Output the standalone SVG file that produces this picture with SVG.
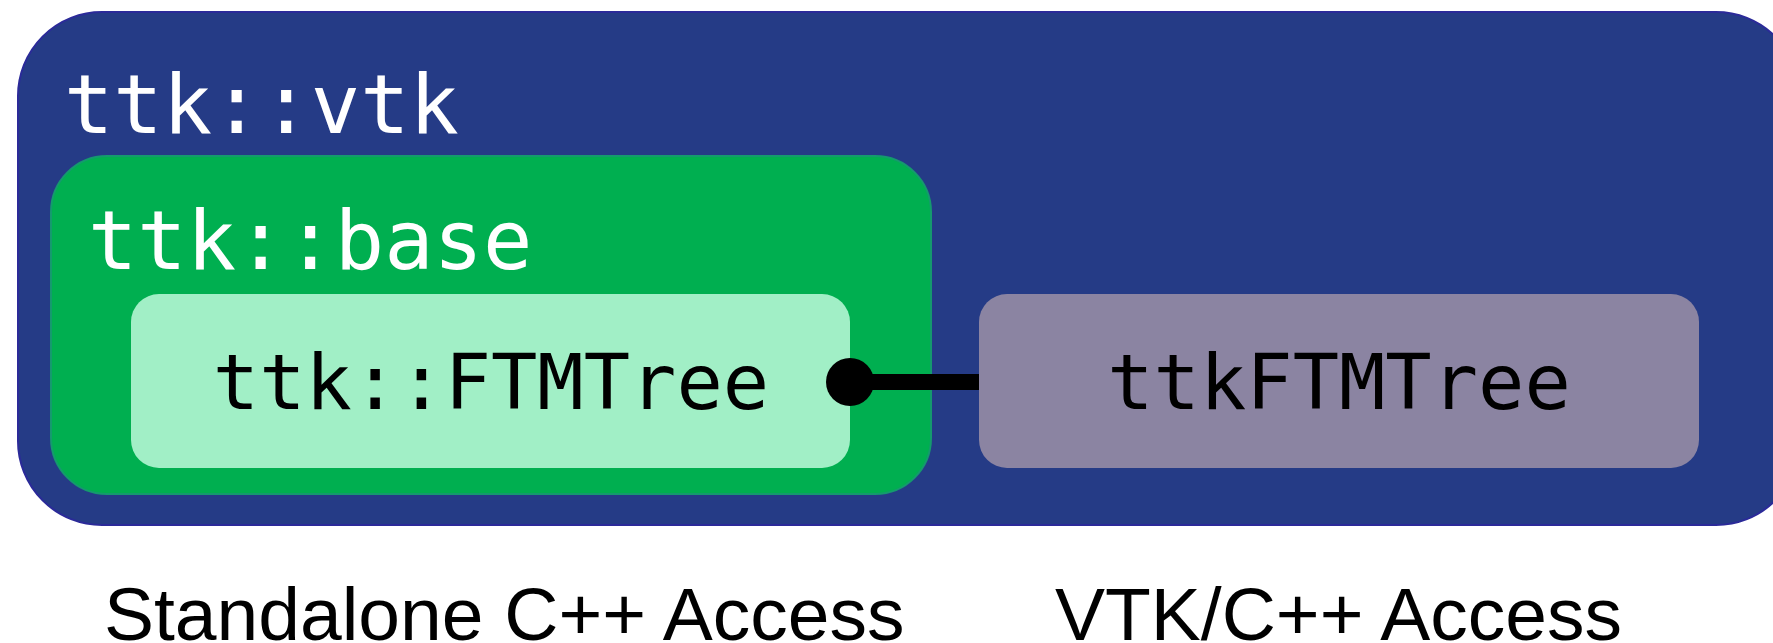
<svg xmlns="http://www.w3.org/2000/svg" width="1773" height="643" viewBox="0 0 1773 643">
<style>
.mono{font-family:"DejaVu Sans Mono",monospace}
.lbl{font-family:"Liberation Sans",Arial,sans-serif;font-size:75px;fill:#000}
</style>
<rect width="1773" height="643" fill="#fff"/>
<g id="vtk">
<rect x="18" y="12" width="1782" height="513" rx="84" fill="#253B86" stroke="#2B2A99" stroke-width="2"/>
<text class="mono" x="64" y="133" font-size="82" fill="#fff">ttk::vtk</text>
</g>
<g id="base">
<rect x="51" y="156" width="880" height="338" rx="56" fill="#00AF50" stroke="#159A6E" stroke-width="2"/>
<text class="mono" x="88" y="269" font-size="82" fill="#fff">ttk::base</text>
</g>
<g id="ftmtree">
<rect x="131" y="294" width="719" height="174" rx="28" fill="#A1EFC6"/>
<text class="mono" x="491" y="409" font-size="77" text-anchor="middle" fill="#000">ttk::FTMTree</text>
</g>
<g id="ttkftmtree">
<rect x="979" y="294" width="720" height="174" rx="28" fill="#8B84A2"/>
<text class="mono" x="1339" y="409" font-size="77" text-anchor="middle" fill="#000">ttkFTMTree</text>
</g>
<g id="connectors">
<line x1="850" y1="382" x2="979" y2="382" stroke="#000" stroke-width="16"/>
<circle cx="850" cy="382" r="24" fill="#000"/>
</g>
<g id="labels">
<text class="lbl" x="104" y="640">Standalone C++ Access</text>
<text class="lbl" x="1055" y="640">VTK/C++ Access</text>
</g>
</svg>
